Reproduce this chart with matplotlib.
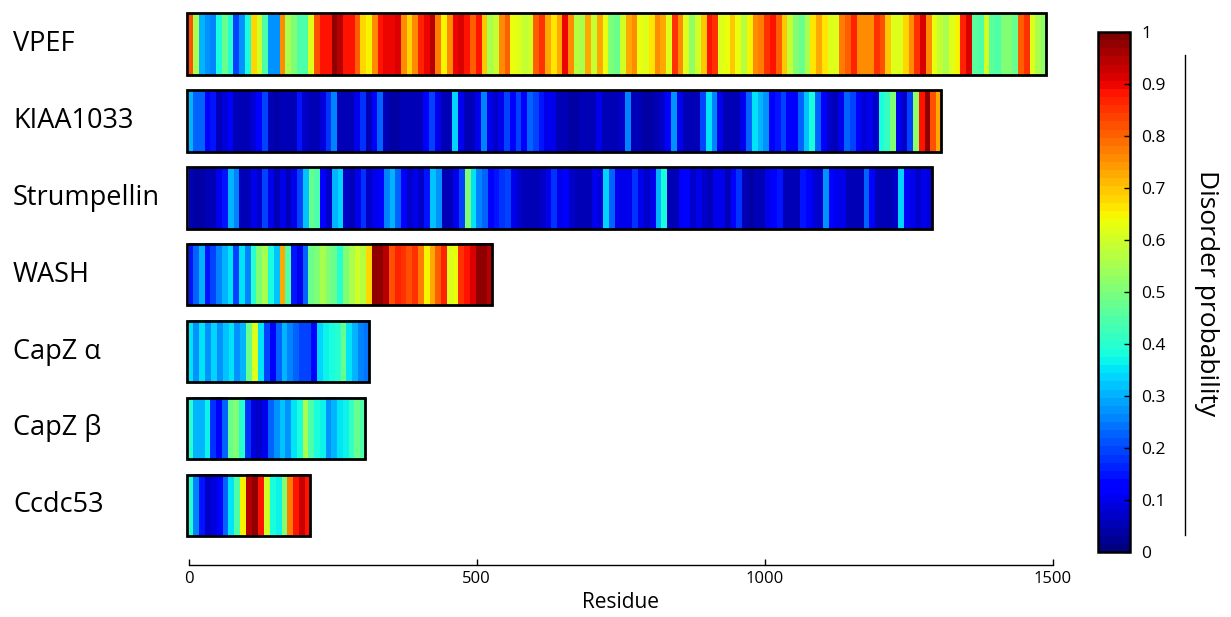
import numpy as np
import matplotlib
matplotlib.use("Agg")
import matplotlib.pyplot as plt
from matplotlib.patches import Rectangle
from matplotlib.lines import Line2D
import matplotlib.transforms as mtransforms

plt.rcParams['font.family'] = ['Open Sans', 'DejaVu Sans']

proteins = ["VPEF", "KIAA1033", "Strumpellin", "WASH", "CapZ α", "CapZ β", "Ccdc53"]
lengths = [1487, 1305, 1290, 526, 314, 306, 211]

vpef = [0.82,0.55,0.30,0.28,0.25,0.38,0.48,0.40,0.20,0.27,
        0.38,0.68,0.60,0.45,0.28,0.27,0.75,0.55,0.50,0.45,
        0.45,0.62,0.82,0.88,0.88,0.97,0.95,0.88,0.88,0.80,
        0.68,0.65,0.75,0.88,0.90,0.90,0.92,0.75,0.68,0.75,
        0.87,0.90,0.95,0.78,0.65,0.75,0.90,0.92,0.88,0.80,
        0.88,0.70,0.55,0.58,0.75,0.80,0.63,0.62,0.58,0.60,
        0.80,0.85,0.72,0.67,0.72,0.90,0.75,0.57,0.55,0.72,
        0.58,0.73,0.63,0.50,0.47,0.60,0.72,0.75,0.63,0.62,
        0.67,0.75,0.72,0.62,0.85,0.75,0.62,0.52,0.60,0.70,
        0.88,0.85,0.62,0.63,0.70,0.63,0.57,0.65,0.75,0.78,
        0.85,0.88,0.80,0.70,0.58,0.50,0.47,0.55,0.67,0.73,
        0.67,0.62,0.62,0.78,0.80,0.87,0.75,0.75,0.76,0.85,
        0.82,0.70,0.62,0.62,0.68,0.75,0.85,0.92,0.75,0.63,
        0.58,0.55,0.62,0.65,0.87,0.92,0.46,0.45,0.60,0.46,
        0.45,0.50,0.50,0.48,0.80,0.85,0.62,0.55,0.52]

kiaa1033 = [0.30,0.22,0.22,0.12,0.15,0.06,0.08,0.12,0.06,0.05,
            0.06,0.08,0.12,0.20,0.05,0.04,0.05,0.05,0.06,0.15,
            0.07,0.06,0.05,0.08,0.18,0.25,0.06,0.05,0.06,0.10,
            0.18,0.06,0.12,0.22,0.06,0.04,0.04,0.05,0.05,0.06,
            0.06,0.12,0.20,0.10,0.05,0.06,0.33,0.10,0.05,0.05,
            0.10,0.25,0.10,0.07,0.10,0.20,0.12,0.20,0.12,0.22,
            0.20,0.15,0.10,0.10,0.06,0.05,0.04,0.04,0.05,0.06,
            0.06,0.10,0.06,0.05,0.06,0.07,0.25,0.06,0.05,0.04,
            0.04,0.05,0.07,0.12,0.28,0.10,0.05,0.05,0.06,0.20,
            0.35,0.25,0.10,0.05,0.05,0.06,0.10,0.22,0.35,0.30,
            0.28,0.12,0.15,0.20,0.12,0.12,0.22,0.32,0.38,0.22,
            0.12,0.07,0.06,0.10,0.22,0.20,0.12,0.08,0.10,0.07,
            0.38,0.42,0.50,0.10,0.07,0.20,0.52,0.88,0.97,0.82,0.72]

strumpellin = [0.05,0.04,0.04,0.05,0.06,0.10,0.15,0.30,0.25,0.06,
               0.05,0.10,0.07,0.20,0.10,0.06,0.10,0.06,0.10,0.20,
               0.32,0.48,0.45,0.12,0.07,0.30,0.33,0.07,0.06,0.10,
               0.18,0.07,0.10,0.12,0.25,0.30,0.22,0.12,0.07,0.10,
               0.07,0.15,0.32,0.27,0.06,0.05,0.10,0.20,0.50,0.35,
               0.25,0.22,0.12,0.15,0.18,0.20,0.10,0.07,0.06,0.05,
               0.06,0.07,0.10,0.18,0.10,0.11,0.07,0.05,0.05,0.06,
               0.10,0.08,0.33,0.22,0.10,0.10,0.10,0.18,0.10,0.07,
               0.10,0.30,0.38,0.06,0.06,0.12,0.14,0.07,0.10,0.07,
               0.06,0.10,0.10,0.06,0.12,0.18,0.05,0.04,0.05,0.06,
               0.10,0.12,0.15,0.06,0.05,0.06,0.15,0.12,0.08,0.07,
               0.28,0.12,0.10,0.10,0.06,0.05,0.06,0.22,0.12,0.06,
               0.05,0.06,0.07,0.33,0.12,0.10,0.07,0.10,0.08]

wash = [0.15,0.22,0.30,0.15,0.20,0.25,0.30,0.35,0.20,0.35,
        0.25,0.40,0.50,0.55,0.38,0.32,0.72,0.45,0.15,0.10,
        0.22,0.48,0.50,0.55,0.50,0.47,0.40,0.50,0.55,0.60,
        0.57,0.68,0.97,0.98,0.95,0.82,0.87,0.85,0.82,0.85,
        0.78,0.65,0.72,0.80,0.87,0.62,0.63,0.85,0.88,0.92,
        0.97,0.97,0.95]

capz_alpha = [0.35,0.27,0.35,0.27,0.33,0.27,0.32,0.35,0.28,0.30,
              0.48,0.62,0.35,0.20,0.12,0.22,0.30,0.25,0.23,0.20,
              0.20,0.13,0.33,0.37,0.38,0.40,0.47,0.35,0.30,0.25,0.24]

capz_beta = [0.40,0.30,0.30,0.37,0.18,0.12,0.22,0.48,0.50,0.40,
             0.18,0.08,0.07,0.10,0.22,0.28,0.32,0.27,0.35,0.38,
             0.55,0.45,0.38,0.37,0.28,0.30,0.35,0.37,0.42,0.47,0.45]

ccdc53 = [0.40,0.25,0.15,0.07,0.08,0.12,0.22,0.35,0.45,0.65,
          0.95,0.97,0.88,0.60,0.38,0.37,0.50,0.78,0.88,0.93,0.88]

series = [vpef, kiaa1033, strumpellin, wash, capz_alpha, capz_beta, ccdc53]
xticks = [0, 500, 1000, 1500]
cbar_ticks = [0, 0.1, 0.2, 0.3, 0.4, 0.5, 0.6, 0.7, 0.8, 0.9, 1]

W, H = 1231, 617
fig = plt.figure(figsize=(W / 100, H / 100), dpi=100)
cmap = plt.get_cmap('jet', 64)

ax = fig.add_axes([188.5 / W, 1 - 565 / H, (1053 - 188.5) / W, (565 - 5) / H])
half = 0.4
x0 = -3
for i, (vals, L) in enumerate(zip(series, lengths)):
    arr = np.array(vals)[None, :]
    ax.imshow(arr, cmap=cmap, vmin=0, vmax=1, aspect='auto',
              interpolation='nearest', extent=[x0, L, i + half, i - half])
    ax.add_patch(Rectangle((x0, i - half), L - x0, 2 * half, fill=False,
                           edgecolor='black', linewidth=2.0, zorder=5,
                           clip_on=False))

ax.set_xlim(0, 1500)
ax.set_ylim(6.775, -0.507)
for s in ['left', 'right', 'top']:
    ax.spines[s].set_visible(False)
ax.spines['bottom'].set_bounds(0, 1500)
ax.spines['bottom'].set_linewidth(1.0)
ax.set_yticks([])
ax.set_xticks(xticks)
ax.set_xticklabels([str(t) for t in xticks], fontsize=12)
ax.tick_params(axis='x', direction='in', length=4, width=1, pad=4)
ax.set_xlabel("Residue", fontsize=15, labelpad=4)

trans = mtransforms.blended_transform_factory(fig.transFigure, ax.transData)
for i, name in enumerate(proteins):
    ax.text(13 / W, i, name, transform=trans, ha='left', va='center',
            fontsize=19.5, clip_on=False)

# colorbar
cax = fig.add_axes([1098 / W, 1 - 552 / H, 32 / W, 520 / H])
sm = matplotlib.cm.ScalarMappable(cmap=cmap, norm=matplotlib.colors.Normalize(0, 1))
cb = fig.colorbar(sm, cax=cax, ticks=cbar_ticks)
cb.ax.set_yticklabels([('%g' % t) for t in cbar_ticks], fontsize=12.5)
cb.ax.tick_params(direction='in', length=4, width=1, pad=8)
cb.outline.set_linewidth(1.8)

fig.add_artist(Line2D([1185 / W, 1185 / W], [1 - 55 / H, 1 - 535 / H],
                      transform=fig.transFigure, color='black', linewidth=1.0))
fig.text(1206 / W, 1 - 293 / H, "Disorder probability", rotation=-90,
         ha='center', va='center', fontsize=19)

fig.savefig("out.png", dpi=100)
